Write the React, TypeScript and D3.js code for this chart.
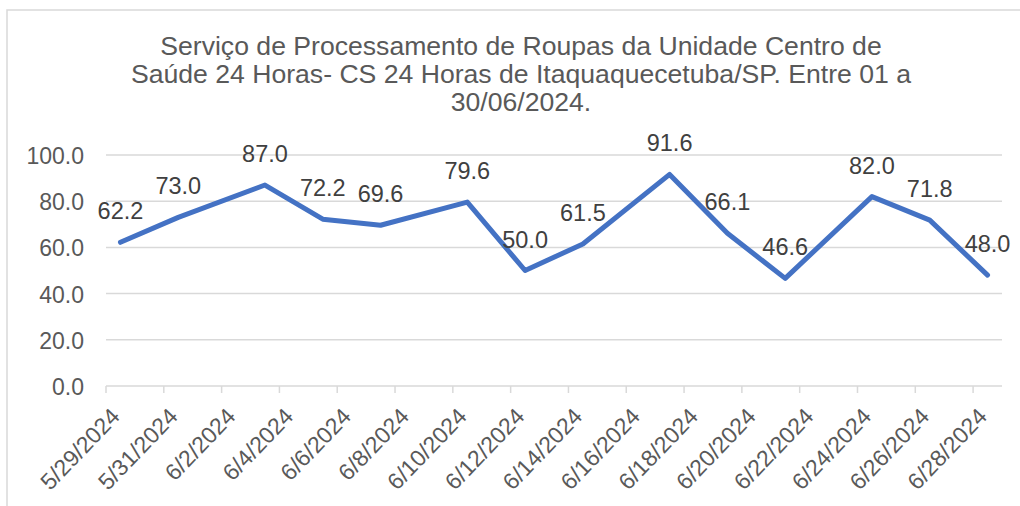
import React from "react";
import * as d3 from "d3";

const title = [
  "Serviço de Processamento de Roupas da Unidade Centro de",
  "Saúde 24 Horas- CS 24 Horas de Itaquaquecetuba/SP. Entre 01 a",
  "30/06/2024.",
];

const dates = [
  "2024-05-29", "2024-05-31", "2024-06-03", "2024-06-05", "2024-06-07",
  "2024-06-10", "2024-06-12", "2024-06-14", "2024-06-17", "2024-06-19",
  "2024-06-21", "2024-06-24", "2024-06-26", "2024-06-28",
];
const values = [62.2, 73.0, 87.0, 72.2, 69.6, 79.6, 50.0, 61.5, 91.6, 66.1, 46.6, 82.0, 71.8, 48.0];

const yTicks = [0, 20, 40, 60, 80, 100];
const tickDates = [
  "2024-05-29", "2024-05-31", "2024-06-02", "2024-06-04", "2024-06-06",
  "2024-06-08", "2024-06-10", "2024-06-12", "2024-06-14", "2024-06-16",
  "2024-06-18", "2024-06-20", "2024-06-22", "2024-06-24", "2024-06-26",
  "2024-06-28",
];

const parse = (s: string) => {
  const [y, m, d] = s.split("-").map(Number);
  return new Date(Date.UTC(y, m - 1, d));
};
const HALF_DAY = 12 * 3600 * 1000;
const fmt = (d: Date) => `${d.getUTCMonth() + 1}/${d.getUTCDate()}/${d.getUTCFullYear()}`;

export default function App() {
  const W = 1020, H = 506;
  const x = d3.scaleUtc().domain([parse("2024-05-29"), parse("2024-06-29")]).range([106, 1002]);
  const y = d3.scaleLinear().domain([0, 100]).range([386, 155]);
  const pts = dates.map((d, i) => ({ x: x(new Date(parse(d).getTime() + HALF_DAY)), y: y(values[i]), v: values[i] }));
  const line = d3.line<{ x: number; y: number }>().x((d) => d.x).y((d) => d.y);
  const textColor = "#595959";
  const font = "'Liberation Sans', Arial, sans-serif";
  return (
    <div style={{ position: "absolute", left: 0, top: 0 }}>
      <svg width={W} height={H} style={{ display: "block", fontFamily: font }}>
        <rect x={0} y={0} width={W} height={H} fill="#fff" />
        <rect x={7} y={10} width={W + 20} height={H + 20} fill="none" stroke="#d9d9d9" strokeWidth={1.5} />
        {title.map((t, i) => (
          <text key={i} x={521} y={55 + i * 28} textAnchor="middle" fontSize={26.6} fill={textColor}>{t}</text>
        ))}
        {yTicks.map((t) => (
          <g key={t}>
            <line x1={106} x2={1002} y1={y(t)} y2={y(t)} stroke="#d9d9d9" strokeWidth={1.5} />
            <text x={84} y={y(t) + 9} textAnchor="end" fontSize={23} fill={textColor}>{t.toFixed(1)}</text>
          </g>
        ))}
        {tickDates.map((s) => {
          const d = parse(s);
          const tx = x(d);
          const lx = x(new Date(d.getTime() + HALF_DAY));
          return (
            <g key={s}>
              <line x1={tx} x2={tx} y1={386} y2={393} stroke="#d9d9d9" strokeWidth={1.5} />
              <text transform={`translate(${lx - 5},${412}) rotate(-46)`} textAnchor="end" dy="0.35em" fontSize={23} fill={textColor}>{fmt(d)}</text>
            </g>
          );
        })}
        <path d={line(pts) || ""} fill="none" stroke="#4472C4" strokeWidth={5} strokeLinejoin="round" strokeLinecap="round" />
        {pts.map((p, i) => (
          <text key={i} x={p.x} y={p.y - 23} textAnchor="middle" fontSize={23.5} fill="#404040">{p.v.toFixed(1)}</text>
        ))}
      </svg>
    </div>
  );
}
